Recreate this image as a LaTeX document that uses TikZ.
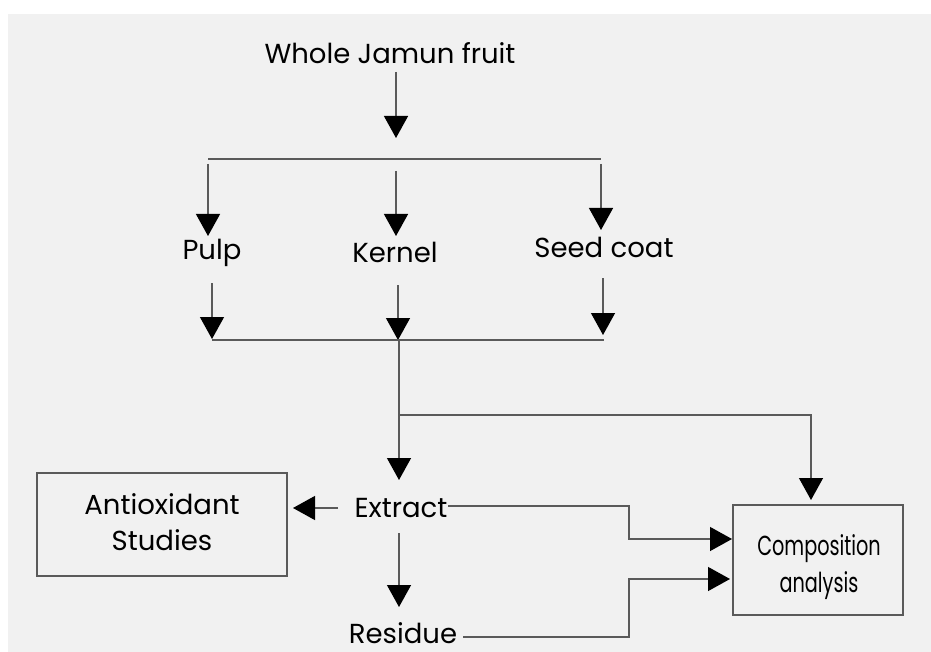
\documentclass[tikz,border=0pt]{standalone}
\usepackage{fontspec}
\setmainfont{Poppins}
\usetikzlibrary{arrows.meta}
\definecolor{bgc}{HTML}{F1F1F1}
\definecolor{lnc}{HTML}{5A5A5A}
\begin{document}
\begin{tikzpicture}[x=1pt,y=-1pt,
  lbl/.style={font=\fontsize{27.5}{33}\selectfont, inner sep=0pt, text=black, anchor=center},
  ln/.style={draw=lnc, line width=1.3pt},
  arr/.style={ln, -{Triangle[length=22pt,width=24pt,color=black]}},
  box/.style={draw=lnc, line width=1.5pt}]
\useasboundingbox (0,0) rectangle (931,652);
\fill[white] (0,0) rectangle (931,652);
\fill[bgc] (8,14) rectangle (931,652);

% texts
\node[lbl] (whole) at (390,53) {Whole Jamun fruit};
\node[lbl] (pulp) at (212,253) {Pulp};
\node[lbl] (kernel) at (395,252) {Kernel};
\node[lbl] (seed) at (604,247) {Seed coat};
\node[lbl] (extract) at (401,508) {Extract};
\node[lbl] (residue) at (403,633) {Residue};

% boxes
\node[box, minimum width=250pt, minimum height=103pt, inner sep=0pt] (anti) at (162,524.5) {};
\node[lbl, align=center] (antitxt) at (162,522) {Antioxidant\\[3pt]Studies};
\node[box, minimum width=170pt, minimum height=110pt, inner sep=0pt] (comp) at (818,560) {};
\node[lbl, align=center] (comptxt) at (819,567) {\scalebox{0.7}[1]{Composition}\\[4pt]\scalebox{0.7}[1]{analysis}};

% coordinates
\coordinate (w0) at (396,72);
\coordinate (w1) at (396,138);
\coordinate (hL) at (208,159);
\coordinate (hR) at (601,159);
\coordinate (p0) at (208,164);
\coordinate (p1) at (208,236);
\coordinate (k0) at (396,171);
\coordinate (k1) at (396,236);
\coordinate (s0) at (601,164);
\coordinate (s1) at (601,230);
\coordinate (p2) at (212,283);
\coordinate (p3) at (212,339);
\coordinate (k2) at (398,285);
\coordinate (k3) at (398,340);
\coordinate (s2) at (603,278);
\coordinate (s3) at (603,335);
\coordinate (bL) at (212,340);
\coordinate (bR) at (604,340);
\coordinate (c0) at (399,340);
\coordinate (c1) at (399,480);
\coordinate (j0) at (399,415);
\coordinate (j1) at (811,415);
\coordinate (j2) at (811,500);
\coordinate (e0) at (338,508);
\coordinate (e1) at (293,508);
\coordinate (e2) at (399,533);
\coordinate (e3) at (399,607);
\coordinate (x0) at (448,506);
\coordinate (x1) at (629,506);
\coordinate (x2) at (629,539);
\coordinate (x3) at (732,539);
\coordinate (r0) at (463,637);
\coordinate (r1) at (629,637);
\coordinate (r2) at (629,579);
\coordinate (r3) at (730,579);

% connectors
\draw[arr] (w0) -- (w1);
\draw[ln] (hL) -- (hR);
\draw[arr] (p0) -- (p1);
\draw[arr] (k0) -- (k1);
\draw[arr] (s0) -- (s1);
\draw[arr] (p2) -- (p3);
\draw[arr] (k2) -- (k3);
\draw[arr] (s2) -- (s3);
\draw[ln] (bL) -- (bR);
\draw[arr] (c0) -- (c1);
\draw[arr] (j0) -- (j1) -- (j2);
\draw[arr] (e0) -- (e1);
\draw[arr] (e2) -- (e3);
\draw[arr] (x0) -- (x1) -- (x2) -- (x3);
\draw[arr] (r0) -- (r1) -- (r2) -- (r3);
\end{tikzpicture}
\end{document}
